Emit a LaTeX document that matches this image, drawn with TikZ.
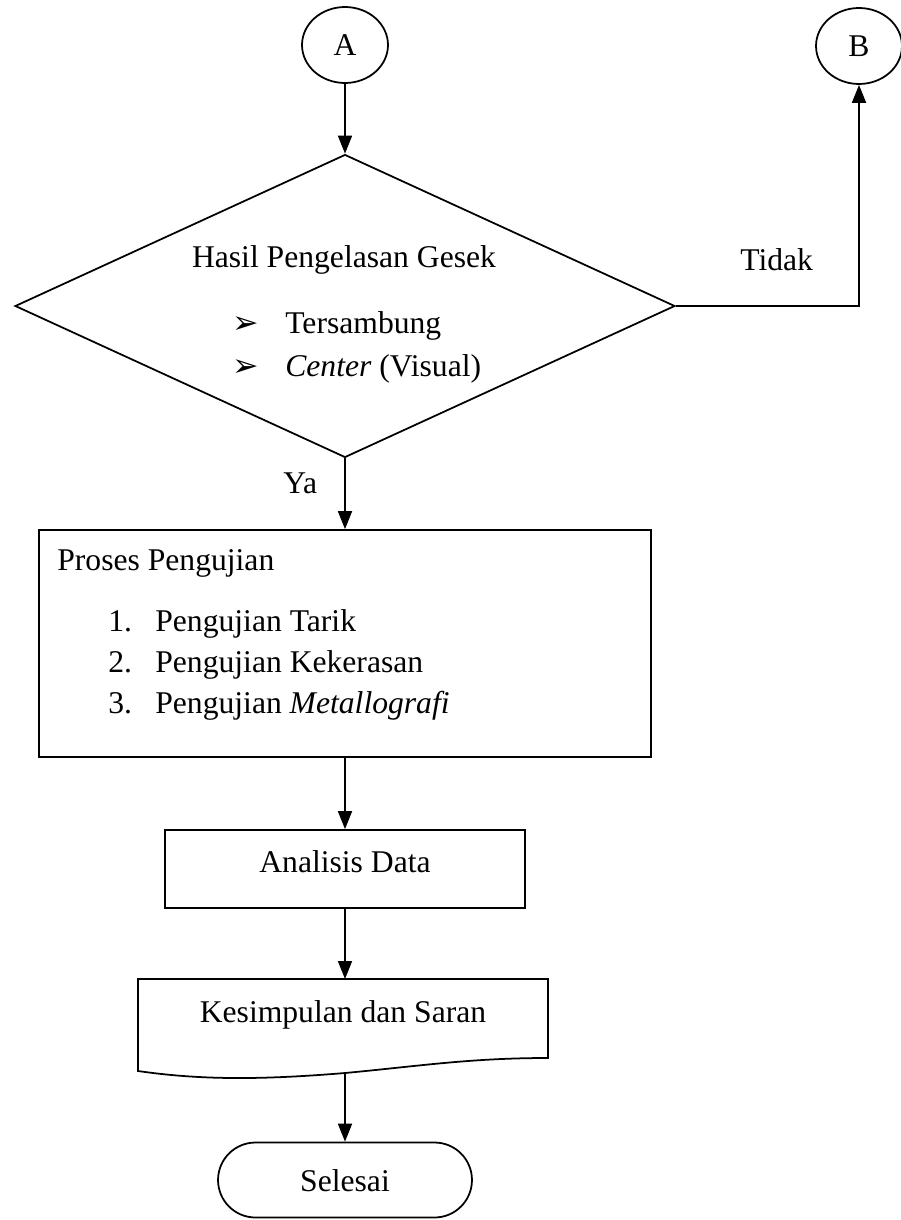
\documentclass[tikz,border=0pt]{standalone}
\usepackage{fontspec}
\setmainfont{Liberation Serif}
\newfontfamily\symfont{DejaVu Sans}
\usetikzlibrary{shapes.geometric,arrows.meta}
\tikzset{
  flow/.style={draw, line width=1pt},
  arr/.style={line width=1pt, -{Triangle[length=0.36cm,width=0.28cm]}},
  lbl/.style={inner sep=0pt, font=\fontsize{18}{22}\selectfont},
}
\newcommand{\tick}{{\symfont\fontsize{18}{20}\selectfont ➢}}

\begin{document}
\begin{tikzpicture}
    \begin{scope}[x=0.02cm, y=-0.02cm]
        \useasboundingbox (0,0) rectangle (900,1220);

        % connectors A and B
        \node[flow, ellipse, minimum width=1.72cm, minimum height=1.52cm, lbl] (A) at (345,45) {A};
        \node[flow, ellipse, minimum width=1.72cm, minimum height=1.52cm, lbl] (B) at (859,46) {B};

        % decision
        \node[flow, diamond, minimum width=13.2cm, minimum height=6.06cm, inner sep=0pt] (dec) at (345,306) {};
        \node[lbl, anchor=base] (decT) at (344,267) {Hasil Pengelasan Gesek};
        \node[lbl, anchor=base west] (b1) at (232,333) {\tick};
        \node[lbl, anchor=base west] (t1) at (285,333) {Tersambung};
        \node[lbl, anchor=base west] (b2) at (232,376) {\tick};
        \node[lbl, anchor=base west] (t2) at (285,376) {\textit{Center} (Visual)};
        \node[lbl, anchor=base west] (tidak) at (740,270) {Tidak};
        \node[lbl, anchor=base west] (ya) at (283,493) {Ya};

        % testing process
        \node[flow, minimum width=12.24cm, minimum height=4.54cm] (proc) at (345,643.5) {};
        \node[lbl, anchor=base west] (procT) at (57,570) {Proses Pengujian};
        \node[lbl, anchor=base west] (n1) at (108,631) {1.};
        \node[lbl, anchor=base west] (p1) at (155,631) {Pengujian Tarik};
        \node[lbl, anchor=base west] (n2) at (108,672) {2.};
        \node[lbl, anchor=base west] (p2) at (155,672) {Pengujian Kekerasan};
        \node[lbl, anchor=base west] (n3) at (108,713) {3.};
        \node[lbl, anchor=base west] (p3) at (155,713) {Pengujian \textit{Metallografi}};

        % data analysis
        \node[flow, minimum width=7.2cm, minimum height=1.56cm] (ana) at (345,869) {};
        \node[lbl, anchor=base] (anaT) at (345,872) {Analisis Data};

        % document shape
        \draw[flow] (138,979) -- (548,979) -- (548,1058)
            .. controls (470,1058) and (420,1066) .. (345,1073)
            .. controls (260,1080) and (200,1080) .. (138,1071) -- cycle;
        \coordinate (docTop) at (345,979);
        \coordinate (docBot) at (345,1073);
        \node[lbl, anchor=base] (docT) at (343,1022) {Kesimpulan dan Saran};

        % terminator
        \node[flow, minimum width=5.08cm, minimum height=1.5cm, rounded corners=0.75cm] (stop) at (345,1180) {};
        \node[lbl, anchor=base] (stopT) at (345,1191) {Selesai};

        % arrows
        \draw[arr] (A.south) -- (dec.north);
        \draw[arr] (dec.east) -| (B.south);
        \draw[arr] (dec.south) -- (proc.north);
        \draw[arr] (proc.south) -- (ana.north);
        \draw[arr] (ana.south) -- (docTop);
        \draw[arr] (docBot) -- (stop.north);
    \end{scope}
\end{tikzpicture}
\end{document}
